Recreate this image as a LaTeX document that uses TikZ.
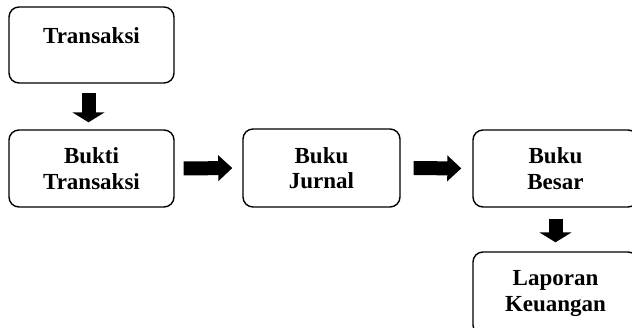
\documentclass[tikz,border=0pt]{standalone}
\usepackage{fontspec}
\setmainfont{Liberation Serif}
\usetikzlibrary{arrows.meta}
\begin{document}
\begin{tikzpicture}[x=1pt,y=-1pt,
  txt/.style={font=\fontsize{23}{25.5}\selectfont\bfseries},
  box/.style={draw=black, line width=1.4pt, rounded corners=10pt, align=center,
    txt, inner sep=0pt},
  harrow/.style={line width=14pt, -{Triangle[width=25pt,length=14pt]}},
  varrow/.style={line width=14pt, -{Triangle[width=32pt,length=10pt]}}]
\useasboundingbox (0,0) rectangle (632,328);
\node[box, minimum width=165pt, minimum height=76pt] (t) at (91.5,45) {};
\node[txt] (tt) at (91.5,36) {Transaksi};
\node[box, minimum width=165pt, minimum height=77pt] (b) at (91.5,168.5) {Bukti\\Transaksi};
\node[box, minimum width=157pt, minimum height=78pt] (j) at (321.5,168) {Buku\\Jurnal};
\node[box, minimum width=165pt, minimum height=77pt] (s) at (555.5,168.5) {Buku\\Besar};
\node[box, minimum width=165pt, minimum height=83pt] (l) at (555.5,293.5) {Laporan\\Keuangan};
\draw[varrow, shorten <=9pt, shorten >=7pt] ([xshift=-3pt]t.south) -- ([xshift=-3pt]b.north);
\draw[harrow, shorten <=9pt, shorten >=10pt] (b.east) -- (j.west);
\draw[harrow, shorten <=13pt, shorten >=11pt] (j.east) -- (s.west);
\draw[varrow, shorten <=11pt, shorten >=9pt] (s.south) -- (l.north);
\end{tikzpicture}
\end{document}
